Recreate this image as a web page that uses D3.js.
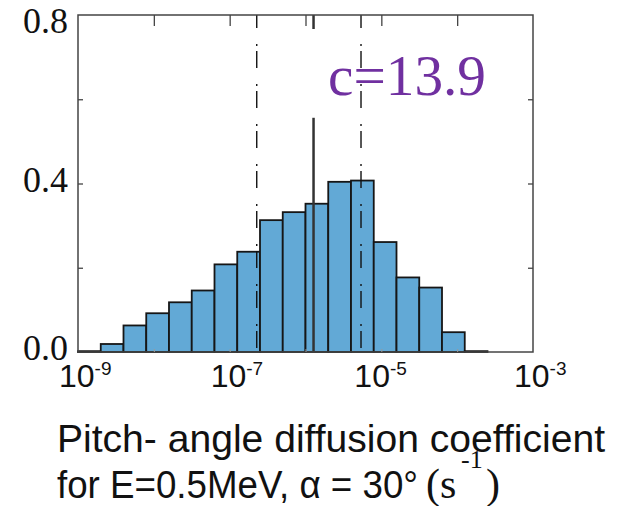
<!DOCTYPE html>
<html>
<head>
<meta charset="utf-8">
<script src="https://cdn.jsdelivr.net/npm/d3@7"></script>
<style>
  html, body { margin: 0; padding: 0; background: #fff; }
  svg { display: block; }
</style>
</head>
<body>
<svg id="chart"></svg>
<script>
// bin edges (log10 of the coefficient) and the fraction in each bin
const binEdges = [-9.0, -8.7, -8.4, -8.1, -7.8, -7.5, -7.2, -6.9, -6.6, -6.3, -6.0,
                  -5.7, -5.4, -5.1, -4.8, -4.5, -4.2, -3.9, -3.6, -3.3, -3.0];
const fractions = [0.002, 0.019, 0.063, 0.092, 0.118, 0.146, 0.208, 0.238, 0.313, 0.332,
                   0.352, 0.404, 0.407, 0.261, 0.177, 0.153, 0.047, 0.002, 0, 0];

// reference lines: two dash-dot bounds and the solid median
const boundExps = [-6.643, -5.268];
const medianExp = -5.894;
const medianTop = 0.556;

const xTickExps = [-9, -7, -5, -3];
const xTopTickExps = [-8, -7, -6, -5, -4];
const yTickValues = [0.0, 0.4, 0.8];
const yTickLabels = ['0.0', '0.4', '0.8'];
const yMinorTicks = [0.2, 0.4, 0.6];
const annotation = 'c=13.9';

const width = 619, height = 506;
const margin = { top: 15, right: 86, bottom: 154, left: 78 };
const innerWidth = width - margin.left - margin.right;
const innerHeight = height - margin.top - margin.bottom;

const svg = d3.select('#chart').attr('width', width).attr('height', height);

const x = d3.scaleLog().domain([1e-9, 1e-3]).range([0, innerWidth]);
const y = d3.scaleLinear().domain([0, 0.8]).range([innerHeight, 0]);

const g = svg.append('g').attr('transform', `translate(${margin.left},${margin.top})`);

const bins = fractions.map((v, i) => ({ lo: Math.pow(10, binEdges[i]), hi: Math.pow(10, binEdges[i + 1]), value: v }));

g.selectAll('.bar')
  .data(bins.filter(d => d.value > 0))
  .enter()
  .append('rect')
  .attr('class', 'bar')
  .attr('x', d => x(d.lo))
  .attr('y', d => y(d.value))
  .attr('width', d => x(d.hi) - x(d.lo))
  .attr('height', d => innerHeight - y(d.value))
  .attr('fill', '#62a9d6')
  .attr('stroke', '#161616')
  .attr('stroke-width', 1.8);

// dash-dot bounds
g.selectAll('.bound')
  .data(boundExps)
  .enter()
  .append('line')
  .attr('class', 'bound')
  .attr('x1', d => x(Math.pow(10, d)))
  .attr('x2', d => x(Math.pow(10, d)))
  .attr('y1', 0)
  .attr('y2', innerHeight)
  .attr('stroke', '#111')
  .attr('stroke-width', 1.4)
  .attr('stroke-dasharray', '17,16,2,5')
  .attr('stroke-dashoffset', 4);

// median line (with a short mark at the top frame)
const mx = x(Math.pow(10, medianExp));
g.append('line')
  .attr('x1', mx).attr('x2', mx)
  .attr('y1', y(medianTop)).attr('y2', innerHeight)
  .attr('stroke', '#333').attr('stroke-width', 2.5);
g.append('line')
  .attr('x1', mx).attr('x2', mx)
  .attr('y1', 0).attr('y2', 14)
  .attr('stroke', '#333').attr('stroke-width', 2.5);

// frame
g.append('rect')
  .attr('width', innerWidth)
  .attr('height', innerHeight)
  .attr('fill', 'none')
  .attr('stroke', '#444')
  .attr('stroke-width', 1.5);

// inner ticks (no labels)
const tickStroke = '#444';
const ticksOnly = sel => {
  sel.select('.domain').remove();
  sel.selectAll('text').remove();
};

g.append('g')
  .call(d3.axisTop(x).tickValues(xTopTickExps.map(e => Math.pow(10, e))).tickSize(-11))
  .call(ticksOnly)
  .selectAll('line').attr('stroke', tickStroke).attr('stroke-width', 1.3);

g.append('g')
  .attr('transform', `translate(0,${innerHeight})`)
  .call(d3.axisBottom(x).tickValues(xTopTickExps.map(e => Math.pow(10, e))).tickSize(-3))
  .call(ticksOnly)
  .selectAll('line').attr('stroke', '#999').attr('stroke-width', 1);

g.append('g')
  .call(d3.axisLeft(y).tickValues(yMinorTicks).tickSize(-5))
  .call(ticksOnly)
  .selectAll('line').attr('stroke', tickStroke).attr('stroke-width', 1.3);

g.append('g')
  .attr('transform', `translate(${innerWidth},0)`)
  .call(d3.axisRight(y).tickValues(yMinorTicks).tickSize(-5))
  .call(ticksOnly)
  .selectAll('line').attr('stroke', tickStroke).attr('stroke-width', 1.3);

// y labels
g.selectAll('.ylab')
  .data(yTickValues)
  .enter()
  .append('text')
  .attr('class', 'ylab')
  .attr('x', -10)
  .attr('y', d => Math.max(y(d) + 8, 18))
  .attr('text-anchor', 'end')
  .attr('font-family', '"Liberation Serif", "Times New Roman", serif')
  .attr('font-size', 36)
  .attr('fill', '#111')
  .text((d, i) => yTickLabels[i]);

// x labels 10^n
const xl = g.selectAll('.xlab')
  .data(xTickExps)
  .enter()
  .append('text')
  .attr('class', 'xlab')
  .attr('x', d => x(Math.pow(10, d)) - 19 + (d === -5 ? -8 : 0))
  .attr('y', innerHeight + 35)
  .attr('font-family', '"Liberation Sans", Arial, sans-serif')
  .attr('font-size', 32)
  .attr('fill', '#111');
xl.append('tspan').text('10');
xl.append('tspan').attr('dy', -12).attr('font-size', 19).text(d => String(d));

// annotation
svg.append('text')
  .attr('x', 328)
  .attr('y', 95)
  .attr('font-family', '"Liberation Serif", "Times New Roman", serif')
  .attr('font-size', 56)
  .attr('fill', '#7030a0')
  .attr('textLength', 158)
  .attr('lengthAdjust', 'spacingAndGlyphs')
  .text(annotation);

// x title
svg.append('text')
  .attr('x', 57)
  .attr('y', 452)
  .attr('font-family', '"Liberation Sans", Arial, sans-serif')
  .attr('font-size', 39)
  .attr('fill', '#111')
  .attr('textLength', 548)
  .attr('lengthAdjust', 'spacingAndGlyphs')
  .text('Pitch- angle diffusion coefficient');

const serif = '"Liberation Serif", "Times New Roman", serif';
const t2 = svg.append('text')
  .attr('y', 498)
  .attr('fill', '#111');
t2.append('tspan')
  .attr('x', 57)
  .attr('font-family', '"Liberation Sans", Arial, sans-serif')
  .attr('font-size', 39)
  .attr('textLength', 361)
  .attr('lengthAdjust', 'spacingAndGlyphs')
  .text('for E=0.5MeV, \u03b1 = 30\u00b0');
t2.append('tspan')
  .attr('x', 426)
  .attr('font-family', serif)
  .attr('font-size', 42)
  .text('(s');
t2.append('tspan')
  .attr('x', 461)
  .attr('dy', -30)
  .attr('font-family', serif)
  .attr('font-size', 26)
  .text('-1');
t2.append('tspan')
  .attr('x', 486)
  .attr('dy', 30)
  .attr('font-family', serif)
  .attr('font-size', 42)
  .text(')');
</script>
</body>
</html>
